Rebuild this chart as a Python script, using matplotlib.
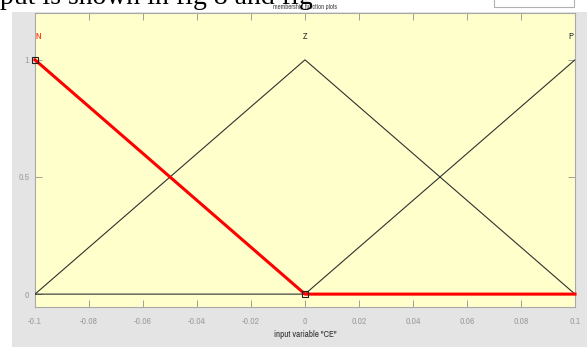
import matplotlib
matplotlib.use("Agg")
import matplotlib.pyplot as plt
from matplotlib.patches import Rectangle
from matplotlib import font_manager

# Membership functions of input variable "CE"
mf_names = ["N", "Z", "P"]
n_x = [-0.1, 0.0, 0.1]
n_y = [1.0, 0.0, 0.0]
z_x = [-0.1, 0.0, 0.1]
z_y = [0.0, 1.0, 0.0]
p_x = [-0.1, 0.0, 0.1]
p_y = [0.0, 0.0, 1.0]
label_x = [-0.1, 0.0, 0.1]
xticks = [-0.1, -0.08, -0.06, -0.04, -0.02, 0.0, 0.02, 0.04, 0.06, 0.08, 0.1]
xticklabels = ["-0.1", "-0.08", "-0.06", "-0.04", "-0.02", "0", "0.02", "0.04", "0.06", "0.08", "0.1"]
yticks = [0, 0.5, 1]
yticklabels = ["0", "0.5", "1"]

W, H = 587, 347
fig = plt.figure(figsize=(W / 100, H / 100), dpi=100)
fig.patch.set_facecolor("white")

def fx(px):
    return px / W

def fy(py):
    return 1 - py / H

# look for a condensed sans font
cond = None
for f in font_manager.fontManager.ttflist:
    if "Narrow" in f.name:
        cond = dict(family=f.name)
        break
if cond is None:
    for f in font_manager.fontManager.ttflist:
        if f.name == "DejaVu Sans" and "ondensed" in str(f.stretch) + f.fname:
            cond = dict(fname=f.fname)
            break
if cond is None:
    cond = dict(family="DejaVu Sans")

def cfont(size):
    if "fname" in cond:
        return font_manager.FontProperties(fname=cond["fname"], size=size)
    return font_manager.FontProperties(family=cond["family"], size=size)

# gray MATLAB window background
fig.patches.append(Rectangle((fx(12), 0), 1 - fx(12), fy(12), transform=fig.transFigure,
                             facecolor="#e4e4e4", edgecolor="none", zorder=0))
# white box top right
fig.patches.append(Rectangle((fx(494), fy(7)), fx(80), fy(0) - fy(7) + 0.01, transform=fig.transFigure,
                             facecolor="white", edgecolor="#b0b0b0", linewidth=0.8, zorder=1))
# tiny window title
fig.text(fx(305), fy(7), "membership function plots", color="#444444",
         ha="center", va="center", fontproperties=cfont(4.8), zorder=1)
# document text cut at top
fig.text(fx(0), fy(4), "put is shown in fig 8 and fig", fontsize=20, color="black",
         ha="left", va="baseline", family=["Liberation Serif", "DejaVu Serif"], zorder=2)

ax = fig.add_axes([fx(35), fy(307), fx(540), fy(13) - fy(307)])
ax.set_zorder(5)
ax.set_facecolor("#ffffcc")
ax.set_xlim(-0.1, 0.1)
ax.set_ylim(-0.055, 1.2)

ax.plot(p_x, p_y, color="#303030", linewidth=0.8, zorder=3)
ax.plot(z_x, z_y, color="#303030", linewidth=0.8, zorder=3)
ax.plot(n_x, n_y, color="#ff0000", linewidth=2.2, zorder=4, clip_on=False)
ax.plot([n_x[0], n_x[1]], [n_y[0], n_y[1]], linestyle="none", marker="s", markersize=5,
        markerfacecolor="none", markeredgecolor="#202020", markeredgewidth=0.8, zorder=5, clip_on=False)

ax.text(label_x[0] + 0.0003, 1.1, mf_names[0], color="#ff0000", ha="left", va="center", fontproperties=cfont(6.5))
ax.text(label_x[1], 1.1, mf_names[1], color="#303030", ha="center", va="center", fontproperties=cfont(6.5))
ax.text(label_x[2] - 0.0007, 1.1, mf_names[2], color="#303030", ha="right", va="center", fontproperties=cfont(6.5))

ax.set_xticks(xticks)
ax.set_xticklabels(xticklabels)
ax.set_yticks(yticks)
ax.set_yticklabels(yticklabels)
ax.tick_params(direction="in", length=5, width=0.6, color="#909090", labelcolor="#a0a0a0",
               top=True, right=True)
ax.tick_params(axis="x", pad=7)
ax.tick_params(axis="y", pad=4)
for lab in ax.get_xticklabels() + ax.get_yticklabels():
    lab.set_fontproperties(cfont(7))
for s in ax.spines.values():
    s.set_color("#a8a8a8")
    s.set_linewidth(0.8)

ax.set_xlabel('input variable "CE"', color="#333333", fontproperties=cfont(6.5), labelpad=3)

fig.savefig("out.png", dpi=100)
